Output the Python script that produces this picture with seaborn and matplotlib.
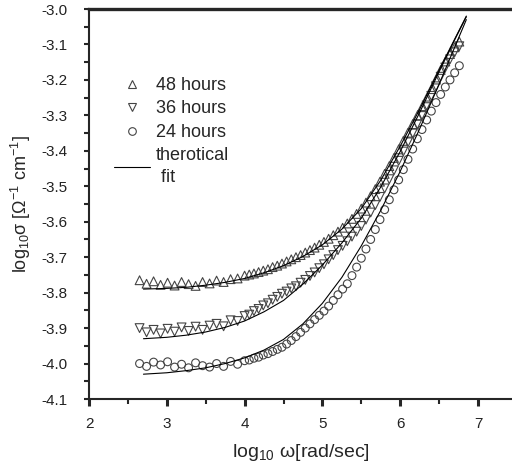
import pandas as pd
import matplotlib
matplotlib.use("Agg")
import matplotlib.pyplot as plt
from matplotlib.ticker import MultipleLocator
from matplotlib.lines import Line2D
import seaborn as sns

# measured frequencies, log10 omega [rad/sec]
log_w = [2.65, 2.74, 2.83, 2.92, 3.01, 3.10, 3.19, 3.28, 3.37, 3.46, 3.55, 3.64, 3.73, 3.82, 3.91, 4.00,
         4.06, 4.12, 4.18, 4.24, 4.30, 4.36, 4.42, 4.48, 4.54, 4.60, 4.66, 4.72, 4.78, 4.84, 4.90, 4.96,
         5.02, 5.08, 5.14, 5.20, 5.26, 5.32, 5.38, 5.44, 5.50, 5.56, 5.62, 5.68, 5.74, 5.80, 5.86, 5.92,
         5.98, 6.04, 6.10, 6.16, 6.22, 6.28, 6.34, 6.40, 6.46, 6.52, 6.58, 6.64, 6.70, 6.76]

sig_48h = [-3.765, -3.775, -3.768, -3.778, -3.772, -3.780, -3.770, -3.776, -3.781, -3.770, -3.774, -3.766,
           -3.770, -3.762, -3.760, -3.752, -3.749, -3.746, -3.742, -3.738, -3.734, -3.728, -3.724, -3.718,
           -3.712, -3.706, -3.700, -3.694, -3.687, -3.680, -3.673, -3.665, -3.657, -3.648, -3.638, -3.628,
           -3.617, -3.605, -3.592, -3.578, -3.563, -3.546, -3.528, -3.508, -3.487, -3.465, -3.443, -3.420,
           -3.396, -3.372, -3.349, -3.325, -3.301, -3.277, -3.252, -3.226, -3.199, -3.172, -3.148, -3.127,
           -3.108, -3.092]

sig_36h = [-3.900, -3.912, -3.905, -3.915, -3.902, -3.910, -3.898, -3.908, -3.896, -3.905, -3.893, -3.888,
           -3.895, -3.878, -3.880, -3.866, -3.862, -3.852, -3.846, -3.836, -3.830, -3.820, -3.812, -3.803,
           -3.797, -3.788, -3.782, -3.772, -3.764, -3.753, -3.743, -3.731, -3.720, -3.706, -3.694, -3.680,
           -3.668, -3.655, -3.642, -3.628, -3.612, -3.594, -3.574, -3.553, -3.530, -3.506, -3.480, -3.455,
           -3.428, -3.402, -3.376, -3.351, -3.325, -3.299, -3.272, -3.245, -3.218, -3.191, -3.165, -3.142,
           -3.122, -3.105]

sig_24h = [-4.000, -4.008, -3.996, -4.004, -3.995, -4.010, -4.002, -4.012, -3.998, -4.006, -4.010, -4.000,
           -4.008, -3.994, -4.002, -3.992, -3.990, -3.985, -3.982, -3.976, -3.972, -3.966, -3.960, -3.954,
           -3.945, -3.935, -3.924, -3.912, -3.900, -3.888, -3.876, -3.864, -3.852, -3.838, -3.822, -3.806,
           -3.790, -3.775, -3.752, -3.728, -3.703, -3.677, -3.650, -3.622, -3.594, -3.566, -3.538, -3.510,
           -3.482, -3.453, -3.424, -3.395, -3.366, -3.340, -3.313, -3.288, -3.264, -3.241, -3.220, -3.200,
           -3.180, -3.160]

# theoretical fit curves
fit_w = [2.7, 3.0, 3.25, 3.5, 3.75, 4.0, 4.25, 4.5, 4.75, 5.0, 5.25, 5.5, 5.75, 6.0, 6.25, 6.5, 6.7, 6.85]
fit_48h = [-3.790, -3.788, -3.785, -3.779, -3.771, -3.760, -3.744, -3.724, -3.698, -3.665, -3.621, -3.563,
           -3.483, -3.387, -3.283, -3.172, -3.085, -3.020]
fit_36h = [-3.930, -3.926, -3.920, -3.911, -3.898, -3.880, -3.854, -3.822, -3.776, -3.722, -3.660, -3.590,
           -3.502, -3.402, -3.292, -3.177, -3.087, -3.022]
fit_24h = [-4.030, -4.026, -4.020, -4.012, -4.000, -3.984, -3.962, -3.932, -3.888, -3.830, -3.757, -3.668,
           -3.568, -3.458, -3.338, -3.212, -3.108, -3.030]

labels = ["48 hours", "36 hours", "24 hours"]
markers = ["^", "v", "o"]

sns.set_style("ticks")
plt.rcParams['font.family'] = ['Liberation Sans', 'DejaVu Sans']
plt.rcParams['mathtext.fontset'] = 'custom'
plt.rcParams['mathtext.rm'] = 'Liberation Sans'

fig = plt.figure(figsize=(5.12, 4.73), dpi=100)
ax = fig.add_axes([89 / 512, 1 - 399 / 473, 1 - 89 / 512, 390 / 473])

edge = "#444444"
for lab, mk, ys in zip(labels, markers, [sig_48h, sig_36h, sig_24h]):
    df = pd.DataFrame({"w": log_w, "s": ys})
    sns.scatterplot(data=df, x="w", y="s", marker=mk, s=40 if mk != "o" else 32,
                    facecolor="none", edgecolor=edge, linewidth=0.8, ax=ax)

for ys in [fit_48h, fit_36h, fit_24h]:
    df = pd.DataFrame({"w": fit_w, "s": ys})
    sns.lineplot(data=df, x="w", y="s", color="black", linewidth=0.8, ax=ax)

ax.set_xlim(2, 7.437)
ax.set_ylim(-4.1, -3.0)
ax.xaxis.set_major_locator(MultipleLocator(1))
ax.xaxis.set_minor_locator(MultipleLocator(0.5))
ax.yaxis.set_major_locator(MultipleLocator(0.1))
ax.yaxis.set_minor_locator(MultipleLocator(0.05))
ax.yaxis.set_major_formatter(plt.FuncFormatter(lambda v, p: f"{v:.1f}"))

ax.spines['right'].set_visible(False)
ax.spines['top'].set_linewidth(2.4)
ax.spines['left'].set_linewidth(1.5)
ax.spines['bottom'].set_linewidth(1.5)
ax.tick_params(axis='x', which='major', direction='out', length=5, width=2.2,
               labelsize=11, pad=8, labelcolor='#222222')
ax.tick_params(axis='x', which='minor', direction='out', length=3.6, width=1.5)
ax.tick_params(axis='y', which='major', direction='out', length=3.6, width=1.5,
               labelsize=11, pad=12, labelcolor='#222222')
ax.tick_params(axis='y', which='minor', direction='out', length=3.6, width=1.5)

ax.set_xlabel(r'log$_{\mathregular{10}}$ ω[rad/sec]', fontsize=14, labelpad=8)
ax.set_ylabel(r'log$_{\mathregular{10}}$σ [Ω$^{\mathregular{-1}}$ cm$^{\mathregular{-1}}$]', fontsize=13, labelpad=6)

handles = [Line2D([], [], marker=mk, linestyle='none', markersize=5.5, markerfacecolor='none',
                  markeredgecolor=edge, markeredgewidth=0.8) for mk in markers]
handles.append(Line2D([], [], color='black', linewidth=0.8))
leg = ax.legend(handles, labels + ["therotical\n fit"], loc='upper left', bbox_to_anchor=(0.06, 0.826),
                frameon=False, fontsize=13, handlelength=2.0, handletextpad=0.3, labelspacing=0.36,
                borderpad=0, borderaxespad=0)
for t in leg.get_texts():
    t.set_linespacing(1.35)

plt.savefig("out.png", dpi=100)
